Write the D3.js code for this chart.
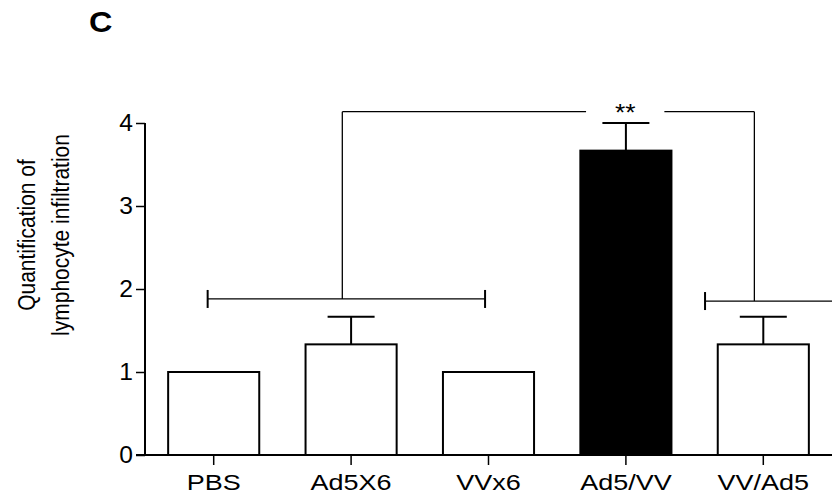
<!DOCTYPE html>
<html><head><meta charset="utf-8">
<script src="https://cdn.jsdelivr.net/npm/d3@7"></script>
<style>body{margin:0;background:#fff}svg{display:block}text{font-family:"Liberation Sans",Arial,sans-serif;fill:#000}</style>
</head><body>
<svg id="c" width="832" height="501"></svg>
<script>
const categories = ["PBS","Ad5X6","VVx6","Ad5/VV","VV/Ad5"];
const means = [1, 1.333, 1, 3.667, 1.333];
const sems = [0, 0.333, 0, 0.333, 0.333];
const fills = ["#fff","#fff","#fff","#000","#fff"];
const yTicks = [0,1,2,3,4];
// brackets in category-index units (band centre = i+0.5) and value units
const bracketLeft = {x0:0.456, x1:2.475, y:1.88, mid:1.436};
const bracketRight = {x0:4.076, x1:5.1, y:1.855, mid:4.435};
const topBracket = {y:4.136, gapL:3.21, gapR:3.78, label:"**"};

const svg = d3.select("#c");
const x0 = 145, x1 = 832, yb = 455, yt = 123;
const x = d3.scaleBand().domain(categories).range([x0,x1]).paddingInner(0.337).paddingOuter(0.1685);
const xi = d3.scaleLinear().domain([0,categories.length]).range([x0,x1]);
const y = d3.scaleLinear().domain([0,4]).range([yb,yt]);
const FONT = "Liberation Sans, Arial, sans-serif";

// bars
svg.selectAll("rect.bar").data(categories).join("rect")
  .attr("x",d=>x(d)).attr("width",x.bandwidth())
  .attr("y",(d,i)=>y(means[i])).attr("height",(d,i)=>yb-y(means[i]))
  .attr("fill",(d,i)=>fills[i]).attr("stroke","#000").attr("stroke-width",2);

// error bars
const capW = 47;
categories.forEach((c,i)=>{
  if(!sems[i]) return;
  const cx = x(c)+x.bandwidth()/2;
  svg.append("line").attr("x1",cx).attr("x2",cx).attr("y1",y(means[i])).attr("y2",y(means[i]+sems[i])).attr("stroke","#000").attr("stroke-width",2);
  svg.append("line").attr("x1",cx-capW/2).attr("x2",cx+capW/2).attr("y1",y(means[i]+sems[i])).attr("y2",y(means[i]+sems[i])).attr("stroke","#000").attr("stroke-width",2);
});

// y axis
const yAxis = d3.axisLeft(y).tickValues(yTicks).tickSize(9).tickPadding(3).tickFormat(d3.format("d"));
const ga = svg.append("g").attr("transform",`translate(${x0},0)`).call(yAxis);
ga.select(".domain").attr("stroke-width",2).attr("d",`M0,${yt}V${yb}`);
ga.selectAll(".tick line").attr("stroke-width",1.5);
ga.selectAll(".tick text").attr("font-size",23).attr("font-family",FONT).attr("fill","#000")
  .attr("x",-12/1.07).attr("transform","scale(1.07,1)");

// x axis
const xAxis = d3.axisBottom(x).tickSize(10).tickPadding(9);
const gx = svg.append("g").attr("transform",`translate(0,${yb})`).call(xAxis);
gx.select(".domain").attr("stroke-width",2).attr("d",`M${x0-9},0H${x1}`);
gx.selectAll(".tick line").attr("stroke-width",1.5);
gx.selectAll(".tick text").attr("font-size",22.5).attr("font-family",FONT).attr("fill","#000")
  .attr("transform","scale(1.2,1)").attr("x",0).attr("dy","0.71em");

// brackets
const bw = 1.3;
function bracket(b){
  svg.append("line").attr("x1",xi(b.x0)).attr("x2",xi(b.x1)).attr("y1",y(b.y)).attr("y2",y(b.y)).attr("stroke","#000").attr("stroke-width",bw);
  svg.append("line").attr("x1",xi(b.x0)).attr("x2",xi(b.x0)).attr("y1",y(b.y)-9).attr("y2",y(b.y)+9).attr("stroke","#000").attr("stroke-width",2);
  if(b.x1<=categories.length) svg.append("line").attr("x1",xi(b.x1)).attr("x2",xi(b.x1)).attr("y1",y(b.y)-9).attr("y2",y(b.y)+9).attr("stroke","#000").attr("stroke-width",2);
  svg.append("line").attr("x1",xi(b.mid)).attr("x2",xi(b.mid)).attr("y1",y(b.y)).attr("y2",y(topBracket.y)).attr("stroke","#000").attr("stroke-width",bw);
}
bracket(bracketLeft); bracket(bracketRight);
svg.append("line").attr("x1",xi(bracketLeft.mid)).attr("x2",xi(topBracket.gapL)).attr("y1",y(topBracket.y)).attr("y2",y(topBracket.y)).attr("stroke","#000").attr("stroke-width",bw);
svg.append("line").attr("x1",xi(topBracket.gapR)).attr("x2",xi(bracketRight.mid)).attr("y1",y(topBracket.y)).attr("y2",y(topBracket.y)).attr("stroke","#000").attr("stroke-width",bw);
svg.append("text").attr("transform",`translate(${xi((topBracket.gapL+topBracket.gapR)/2)},${y(topBracket.y)+9}) scale(1.15,1)`).attr("text-anchor","middle").attr("font-size",23).text(topBracket.label);

// y label
const ys = 1.12;
const yl = svg.append("text").attr("transform",`translate(0,235) scale(${ys},1) rotate(-90)`).attr("text-anchor","middle").attr("font-size",21);
yl.append("tspan").attr("x",0).attr("y",35/ys).text("Quantification of");
yl.append("tspan").attr("x",0).attr("y",69/ys).text("lymphocyte infiltration");

// panel letter
svg.append("text").attr("transform","translate(89,32) scale(1.08,1)").attr("font-size",30).attr("font-weight","bold").text("C");
</script>
</body></html>
